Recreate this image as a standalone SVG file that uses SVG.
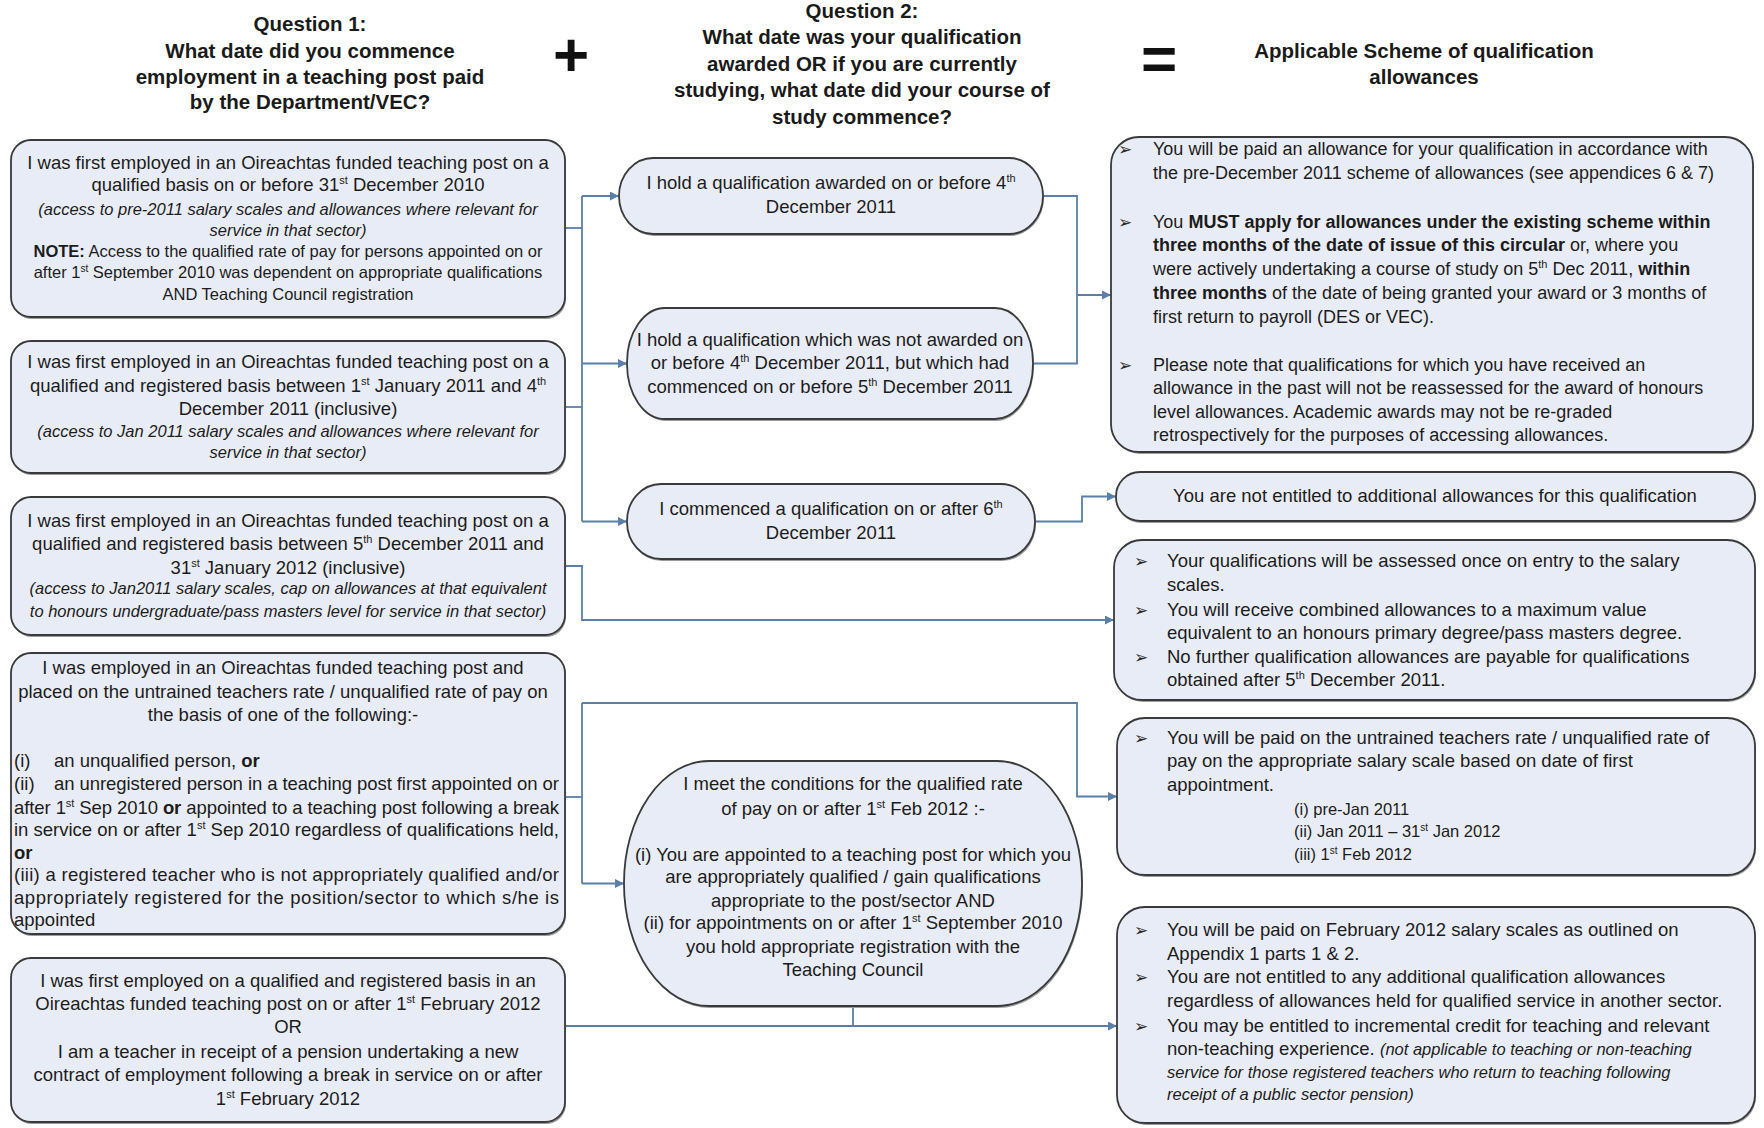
<svg xmlns="http://www.w3.org/2000/svg" width="1764" height="1128" viewBox="0 0 1764 1128">
<defs>
<style>
.bg{fill:#ffffff}
.box{fill:#e8ecf6;stroke:#3a3a3a;stroke-width:1.8}
.sh{fill:#9c9c9c}
.t{font-family:'Liberation Sans',Arial,sans-serif;font-size:18.5px;fill:#1c1c1c}
.r1{font-size:18px}
.s{font-size:16.5px}
.i{font-style:italic;font-size:16.5px}
.b{font-weight:bold}
.c{text-anchor:middle}
.h{font-family:'Liberation Sans',Arial,sans-serif;font-size:20.5px;font-weight:bold;fill:#1a1a1a;text-anchor:middle}
.op{font-family:'Liberation Sans',Arial,sans-serif;font-size:62px;font-weight:bold;fill:#111;text-anchor:middle}
.bul{font-family:'DejaVu Sans',sans-serif;font-size:17px;fill:#2a2a2a}
.conn{fill:none;stroke:#5b7fa8;stroke-width:1.8}
</style>
<marker id="ar" viewBox="0 0 10 10" refX="10" refY="5" markerWidth="10" markerHeight="9" markerUnits="userSpaceOnUse" orient="auto">
<path d="M0,0 L10,5 L0,10 z" fill="#5b7fa8"/>
</marker>
</defs>
<rect class="bg" x="0" y="0" width="1764" height="1128"/>

<g id="headers">
<text class="h" x="310" y="31">Question 1:</text>
<text class="h" x="310" y="58">What date did you commence</text>
<text class="h" x="310" y="84">employment in a teaching post paid</text>
<text class="h" x="310" y="109">by the Department/VEC?</text>
<text class="op" x="571" y="76">+</text>
<text class="h" x="862" y="18">Question 2:</text>
<text class="h" x="862" y="44">What date was your qualification</text>
<text class="h" x="862" y="71">awarded OR if you are currently</text>
<text class="h" x="862" y="97">studying, what date did your course of</text>
<text class="h" x="862" y="124">study commence?</text>
<text class="op" x="1159" y="80">=</text>
<text class="h" x="1424" y="58">Applicable Scheme of qualification</text>
<text class="h" x="1424" y="84">allowances</text>
</g>

<g id="connectors">
<path class="conn" d="M565,228 H582"/>
<path class="conn" d="M565,407 H582"/>
<path class="conn" d="M582,196 V521.5"/>
<path class="conn" marker-end="url(#ar)" d="M582,196 H619"/>
<path class="conn" marker-end="url(#ar)" d="M582,363.5 H627"/>
<path class="conn" marker-end="url(#ar)" d="M582,521.5 H627"/>
<path class="conn" marker-end="url(#ar)" d="M565,566 H582 V620 H1114"/>
<path class="conn" d="M1043,196 H1077 V363.5 H1033"/>
<path class="conn" marker-end="url(#ar)" d="M1077,295 H1111"/>
<path class="conn" marker-end="url(#ar)" d="M1035,521.5 H1082 V496.5 H1116"/>
<path class="conn" d="M565,797 H582"/>
<path class="conn" d="M582,703 V883.5"/>
<path class="conn" marker-end="url(#ar)" d="M582,703 H1077 V796.5 H1117"/>
<path class="conn" marker-end="url(#ar)" d="M582,883.5 H624"/>
<path class="conn" marker-end="url(#ar)" d="M565,1026 H1117"/>
<path class="conn" d="M853,1006 V1026"/>
</g>

<g id="L1">
<rect class="sh" x="12" y="142" width="554" height="177" rx="20"/>
<rect class="box" x="11" y="140" width="554" height="177" rx="20"/>
<text class="t c" x="288" y="169">I was first employed in an Oireachtas funded teaching post on a</text>
<text class="t c" x="288" y="191">qualified basis on or before 31<tspan dy="-7" font-size="11">st</tspan><tspan dy="7"> December 2010</tspan></text>
<text class="t i c" x="288" y="215">(access to pre-2011 salary scales and allowances where relevant for</text>
<text class="t i c" x="288" y="235.5">service in that sector)</text>
<text class="t s c" x="288" y="257"><tspan class="b">NOTE:</tspan> Access to the qualified rate of pay for persons appointed on or</text>
<text class="t s c" x="288" y="278">after 1<tspan dy="-6" font-size="10">st</tspan><tspan dy="6"> September 2010 was dependent on appropriate qualifications</tspan></text>
<text class="t s c" x="288" y="300">AND Teaching Council registration</text>
</g>

<g id="L2">
<rect class="sh" x="12" y="343" width="554" height="132" rx="20"/>
<rect class="box" x="11" y="341" width="554" height="132" rx="20"/>
<text class="t c" x="288" y="367.5">I was first employed in an Oireachtas funded teaching post on a</text>
<text class="t c" x="288" y="391.5">qualified and registered basis between 1<tspan dy="-7" font-size="11">st</tspan><tspan dy="7"> January 2011 and 4</tspan><tspan dy="-7" font-size="11">th</tspan></text>
<text class="t c" x="288" y="414.5">December 2011 (inclusive)</text>
<text class="t i c" x="288" y="437">(access to Jan 2011 salary scales and allowances where relevant for</text>
<text class="t i c" x="288" y="458">service in that sector)</text>
</g>

<g id="L3">
<rect class="sh" x="12" y="499" width="554" height="138" rx="20"/>
<rect class="box" x="11" y="497" width="554" height="138" rx="20"/>
<text class="t c" x="288" y="526.5">I was first employed in an Oireachtas funded teaching post on a</text>
<text class="t c" x="288" y="549.5">qualified and registered basis between 5<tspan dy="-7" font-size="11">th</tspan><tspan dy="7">  December 2011 and</tspan></text>
<text class="t c" x="288" y="573.5">31<tspan dy="-7" font-size="11">st</tspan><tspan dy="7"> January 2012 (inclusive)</tspan></text>
<text class="t i c" x="288" y="594">(access to Jan2011 salary scales, cap on allowances at that equivalent</text>
<text class="t i c" x="288" y="617">to honours undergraduate/pass masters level for service in that sector)</text>
</g>

<g id="L4">
<rect class="sh" x="12" y="655" width="554" height="281" rx="20"/>
<rect class="box" x="11" y="653" width="554" height="281" rx="20"/>
<text class="t c" x="283" y="673.5">I was employed in an Oireachtas funded teaching post and</text>
<text class="t c" x="283" y="697.5">placed on the untrained teachers rate / unqualified rate of pay on</text>
<text class="t c" x="283" y="720.5">the basis of one of the following:-</text>
<text class="t" x="14" y="766.5">(i)</text>
<text class="t" x="54" y="766.5">an unqualified person, <tspan class="b">or</tspan></text>
<text class="t" x="14" y="789.5">(ii)</text>
<text class="t" x="54" y="789.5" textLength="505" lengthAdjust="spacing">an unregistered person in a teaching post first appointed on or</text>
<text class="t" x="14" y="813.5" textLength="545" lengthAdjust="spacing">after 1<tspan dy="-7" font-size="11">st</tspan><tspan dy="7"> Sep 2010 </tspan><tspan class="b">or</tspan> appointed to a teaching post following a break</text>
<text class="t" x="14" y="835.5" textLength="545" lengthAdjust="spacing">in service on or after 1<tspan dy="-7" font-size="11">st</tspan><tspan dy="7"> Sep 2010 regardless of qualifications held,</tspan></text>
<text class="t b" x="14" y="858.5">or</text>
<text class="t" x="14" y="880.5" textLength="545" lengthAdjust="spacing">(iii) a registered teacher who is not appropriately qualified and/or</text>
<text class="t" x="14" y="903.5" textLength="545" lengthAdjust="spacing">appropriately registered for the position/sector to which s/he is</text>
<text class="t" x="14" y="925.5">appointed</text>
</g>

<g id="L5">
<rect class="sh" x="12" y="960" width="554" height="164" rx="20"/>
<rect class="box" x="11" y="958" width="554" height="164" rx="20"/>
<text class="t c" x="288" y="986.5">I was first employed on a qualified and registered basis in an</text>
<text class="t c" x="288" y="1010">Oireachtas funded teaching post on or after 1<tspan dy="-7" font-size="11">st</tspan><tspan dy="7"> February 2012</tspan></text>
<text class="t c" x="288" y="1032.5">OR</text>
<text class="t c" x="288" y="1057.5">I am a teacher in receipt of a pension undertaking a new</text>
<text class="t c" x="288" y="1080.5">contract of employment following a break in service on or after</text>
<text class="t c" x="288" y="1104.5">1<tspan dy="-7" font-size="11">st</tspan><tspan dy="7"> February 2012</tspan></text>
</g>

<g id="M1">
<rect class="sh" x="620" y="160" width="424" height="76" rx="34" ry="38"/>
<rect class="box" x="619" y="158" width="424" height="76" rx="34" ry="38"/>
<text class="t c" x="831" y="188.5">I hold a qualification awarded on or before 4<tspan dy="-7" font-size="11">th</tspan></text>
<text class="t c" x="831" y="212.5">December 2011</text>
</g>

<g id="M2">
<rect class="sh" x="628" y="310" width="406" height="111" rx="38" ry="55"/>
<rect class="box" x="627" y="308" width="406" height="111" rx="38" ry="55"/>
<text class="t c" x="830" y="345.5">I hold a qualification which was not awarded on</text>
<text class="t c" x="830" y="368.5">or before 4<tspan dy="-7" font-size="11">th</tspan><tspan dy="7"> December 2011, but which had</tspan></text>
<text class="t c" x="830" y="392.5">commenced on or before 5<tspan dy="-7" font-size="11">th</tspan><tspan dy="7"> December 2011</tspan></text>
</g>

<g id="M3">
<rect class="sh" x="628" y="486" width="408" height="75" rx="34" ry="37"/>
<rect class="box" x="627" y="484" width="408" height="75" rx="34" ry="37"/>
<text class="t c" x="831" y="515">I commenced a qualification on or after 6<tspan dy="-7" font-size="11">th</tspan></text>
<text class="t c" x="831" y="538.5">December 2011</text>
</g>

<g id="M4">
<rect class="sh" x="625" y="763" width="458" height="245" rx="85" ry="122"/>
<rect class="box" x="624" y="761" width="458" height="245" rx="85" ry="122"/>
<text class="t c" x="853" y="789.5">I meet the conditions for the qualified rate</text>
<text class="t c" x="853" y="814.5">of pay on or after 1<tspan dy="-7" font-size="11">st</tspan><tspan dy="7"> Feb 2012 :-</tspan></text>
<text class="t c" x="853" y="860.5">(i) You are appointed to a teaching post for which you</text>
<text class="t c" x="853" y="882.5">are appropriately qualified / gain qualifications</text>
<text class="t c" x="853" y="906.5">appropriate to the post/sector AND</text>
<text class="t c" x="853" y="929">(ii) for appointments on or after 1<tspan dy="-7" font-size="11">st</tspan><tspan dy="7"> September 2010</tspan></text>
<text class="t c" x="853" y="952.5">you hold appropriate registration with the</text>
<text class="t c" x="853" y="975.5">Teaching Council</text>
</g>

<g id="R1">
<rect class="sh" x="1112" y="139" width="642" height="315" rx="28"/>
<rect class="box" x="1111" y="137" width="642" height="315" rx="28"/>
<text class="bul" x="1118" y="155">➢</text>
<text class="t r1" x="1153" y="155">You will be paid an allowance for your qualification in accordance with</text>
<text class="t r1" x="1153" y="179">the pre-December 2011 scheme of allowances (see appendices 6 &amp; 7)</text>
<text class="bul" x="1118" y="228">➢</text>
<text class="t r1" x="1153" y="228">You <tspan class="b">MUST apply for allowances under the existing scheme within</tspan></text>
<text class="t r1" x="1153" y="251"><tspan class="b">three months of the date of issue of this circular</tspan> or, where you</text>
<text class="t r1" x="1153" y="275">were actively undertaking a course of study on 5<tspan dy="-7" font-size="11">th</tspan><tspan dy="7"> Dec 2011, </tspan><tspan class="b">within</tspan></text>
<text class="t r1" x="1153" y="299"><tspan class="b">three months</tspan> of the date of being granted your award or 3 months of</text>
<text class="t r1" x="1153" y="323">first return to payroll (DES or VEC).</text>
<text class="bul" x="1118" y="371">➢</text>
<text class="t r1" x="1153" y="371">Please note that qualifications for which you have received an</text>
<text class="t r1" x="1153" y="394">allowance in the past will not be reassessed for the award of honours</text>
<text class="t r1" x="1153" y="418">level allowances. Academic awards may not be re-graded</text>
<text class="t r1" x="1153" y="441">retrospectively for the purposes of accessing allowances.</text>
</g>

<g id="R2">
<rect class="sh" x="1117" y="474" width="639" height="49" rx="24"/>
<rect class="box" x="1116" y="472" width="639" height="49" rx="24"/>
<text class="t c" x="1435" y="502">You are not entitled to additional allowances for this qualification</text>
</g>

<g id="R3">
<rect class="sh" x="1115" y="542" width="641" height="160" rx="28"/>
<rect class="box" x="1114" y="540" width="641" height="160" rx="28"/>
<text class="bul" x="1134" y="566.5">➢</text>
<text class="t" x="1167" y="566.5">Your qualifications will be assessed once on entry to the salary</text>
<text class="t" x="1167" y="590.5">scales.</text>
<text class="bul" x="1134" y="615.5">➢</text>
<text class="t" x="1167" y="615.5">You will receive combined allowances to a maximum value</text>
<text class="t" x="1167" y="638.5">equivalent to an honours primary degree/pass masters degree.</text>
<text class="bul" x="1134" y="662.5">➢</text>
<text class="t" x="1167" y="662.5">No further qualification allowances are payable for qualifications</text>
<text class="t" x="1167" y="686">obtained after 5<tspan dy="-7" font-size="11">th</tspan><tspan dy="7"> December 2011.</tspan></text>
</g>

<g id="R4">
<rect class="sh" x="1118" y="720" width="638" height="157" rx="28"/>
<rect class="box" x="1117" y="718" width="638" height="157" rx="28"/>
<text class="bul" x="1134" y="743.5">➢</text>
<text class="t" x="1167" y="743.5">You will be paid on the untrained teachers rate / unqualified rate of</text>
<text class="t" x="1167" y="767">pay on the appropriate salary scale based on date of first</text>
<text class="t" x="1167" y="790.5">appointment.</text>
<text class="t s" x="1294" y="814.5">(i) pre-Jan 2011</text>
<text class="t s" x="1294" y="836.5">(ii) Jan 2011 – 31<tspan dy="-6" font-size="10">st</tspan><tspan dy="6"> Jan 2012</tspan></text>
<text class="t s" x="1294" y="859.5">(iii) 1<tspan dy="-6" font-size="10">st</tspan><tspan dy="6"> Feb 2012</tspan></text>
</g>

<g id="R5">
<rect class="sh" x="1118" y="909" width="638" height="216" rx="28"/>
<rect class="box" x="1117" y="907" width="638" height="216" rx="28"/>
<text class="bul" x="1134" y="935.5">➢</text>
<text class="t" x="1167" y="935.5">You will be paid on February 2012  salary scales as outlined on</text>
<text class="t" x="1167" y="959.5">Appendix 1 parts 1 &amp; 2.</text>
<text class="bul" x="1134" y="983">➢</text>
<text class="t" x="1167" y="983">You are not entitled to any additional qualification allowances</text>
<text class="t" x="1167" y="1006.5">regardless of allowances held for qualified service in another sector.</text>
<text class="bul" x="1134" y="1031.5">➢</text>
<text class="t" x="1167" y="1031.5">You may be entitled to incremental credit for teaching and relevant</text>
<text class="t" x="1167" y="1055">non-teaching experience.  <tspan class="i">(not applicable to teaching or non-teaching</tspan></text>
<text class="t i" x="1167" y="1077.5">service for those registered teachers who return to teaching following</text>
<text class="t i" x="1167" y="1100">receipt of a public sector pension)</text>
</g>
</svg>
